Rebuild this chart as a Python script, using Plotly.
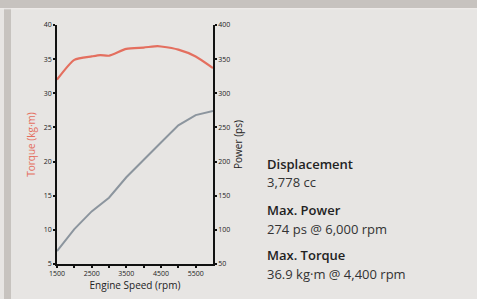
import plotly.graph_objects as go

rpm = [1500, 2000, 2500, 2750, 3000, 3500, 4000, 4400, 4500, 5000, 5500, 6000]
torque = [32.0, 34.9, 35.4, 35.6, 35.5, 36.5, 36.7, 36.9, 36.85, 36.4, 35.4, 33.7]

rpm_p = [1500, 2000, 2500, 3000, 3500, 4000, 4500, 5000, 5500, 6000]
power = [69, 101, 127, 147, 177, 203, 228, 253, 268, 274]

x_ticks = [1500, 2500, 3500, 4500, 5500]

W, H = 477, 299
L, R, T, B = 57, 213, 24.5, 267


def px(x):
    return (x - L) / (R - L)


def py(y):
    return (B - y) / (B - T)


BG = "#E7E5E3"
BAND = "#C7C3BF"
FONT = "Open Sans"

fig = go.Figure()
fig.add_trace(go.Scatter(x=rpm, y=torque, mode="lines",
                         line=dict(color="#E46F5F", width=2.2, shape="spline", smoothing=0.6),
                         hoverinfo="skip", showlegend=False))
fig.add_trace(go.Scatter(x=rpm_p, y=power, mode="lines", yaxis="y2",
                         line=dict(color="#8C959E", width=2),
                         hoverinfo="skip", showlegend=False))

axis_common = dict(showline=True, linecolor="#111111", linewidth=1.8, showgrid=False,
                   zeroline=False, ticks="outside", ticklen=2, tickwidth=2, tickcolor="#111111",
                   tickfont=dict(family=FONT, size=7, color="#222222"))

fig.update_layout(
    width=W, height=H,
    margin=dict(l=L, r=W - R, t=T, b=H - B),
    paper_bgcolor=BG, plot_bgcolor=BG,
    xaxis=dict(range=[1500, 6000], tickvals=x_ticks, ticktext=[str(v) for v in x_ticks],
               minor=dict(tickvals=[2000, 3000, 4000, 5000], ticks="outside", ticklen=2,
                          tickwidth=2, tickcolor="#111111"),
               title=dict(text="Engine Speed (rpm)", font=dict(family=FONT, size=10, color="#222222"),
                          standoff=2),
               **axis_common),
    yaxis=dict(range=[5, 40], dtick=5, tick0=5,
               title=dict(text="Torque (kg·m)", font=dict(family=FONT, size=10, color="#E46F5F"),
                          standoff=6),
               **axis_common),
    yaxis2=dict(range=[50, 400], dtick=50, tick0=50, overlaying="y", side="right",
                title=dict(text="Power (ps)", font=dict(family=FONT, size=10, color="#222222"),
                           standoff=6),
                **axis_common),
    shapes=[
        dict(type="rect", xref="paper", yref="paper", x0=px(-5), x1=px(W + 5), y0=py(7.5), y1=py(-5),
             fillcolor=BAND, line=dict(width=0), layer="below"),
        dict(type="rect", xref="paper", yref="paper", x0=px(4), x1=px(11), y0=py(H + 5), y1=py(7.5),
             fillcolor=BAND, line=dict(width=0), layer="below"),
        dict(type="line", xref="paper", yref="paper", x0=px(-5), x1=px(W + 5), y0=py(8), y1=py(8),
             line=dict(color="#F2F0EE", width=1), layer="below"),
    ],
)

info = [
    ("Displacement", 166, True),
    ("3,778 cc", 184, False),
    ("Max. Power", 212, True),
    ("274 ps @ 6,000 rpm", 231, False),
    ("Max. Torque", 258, True),
    ("36.9 kg·m @ 4,400 rpm", 277, False),
]
for text, yc, bold in info:
    fig.add_annotation(x=px(265), y=py(yc), xref="paper", yref="paper", xanchor="left",
                       yanchor="middle", showarrow=False, text=text,
                       font=dict(family=FONT, size=13, color="#222222" if bold else "#333333",
                                 weight=600 if bold else 400))

fig.write_html("out.html", config={"displayModeBar": False},
               post_script="document.body.style.margin='0';")
